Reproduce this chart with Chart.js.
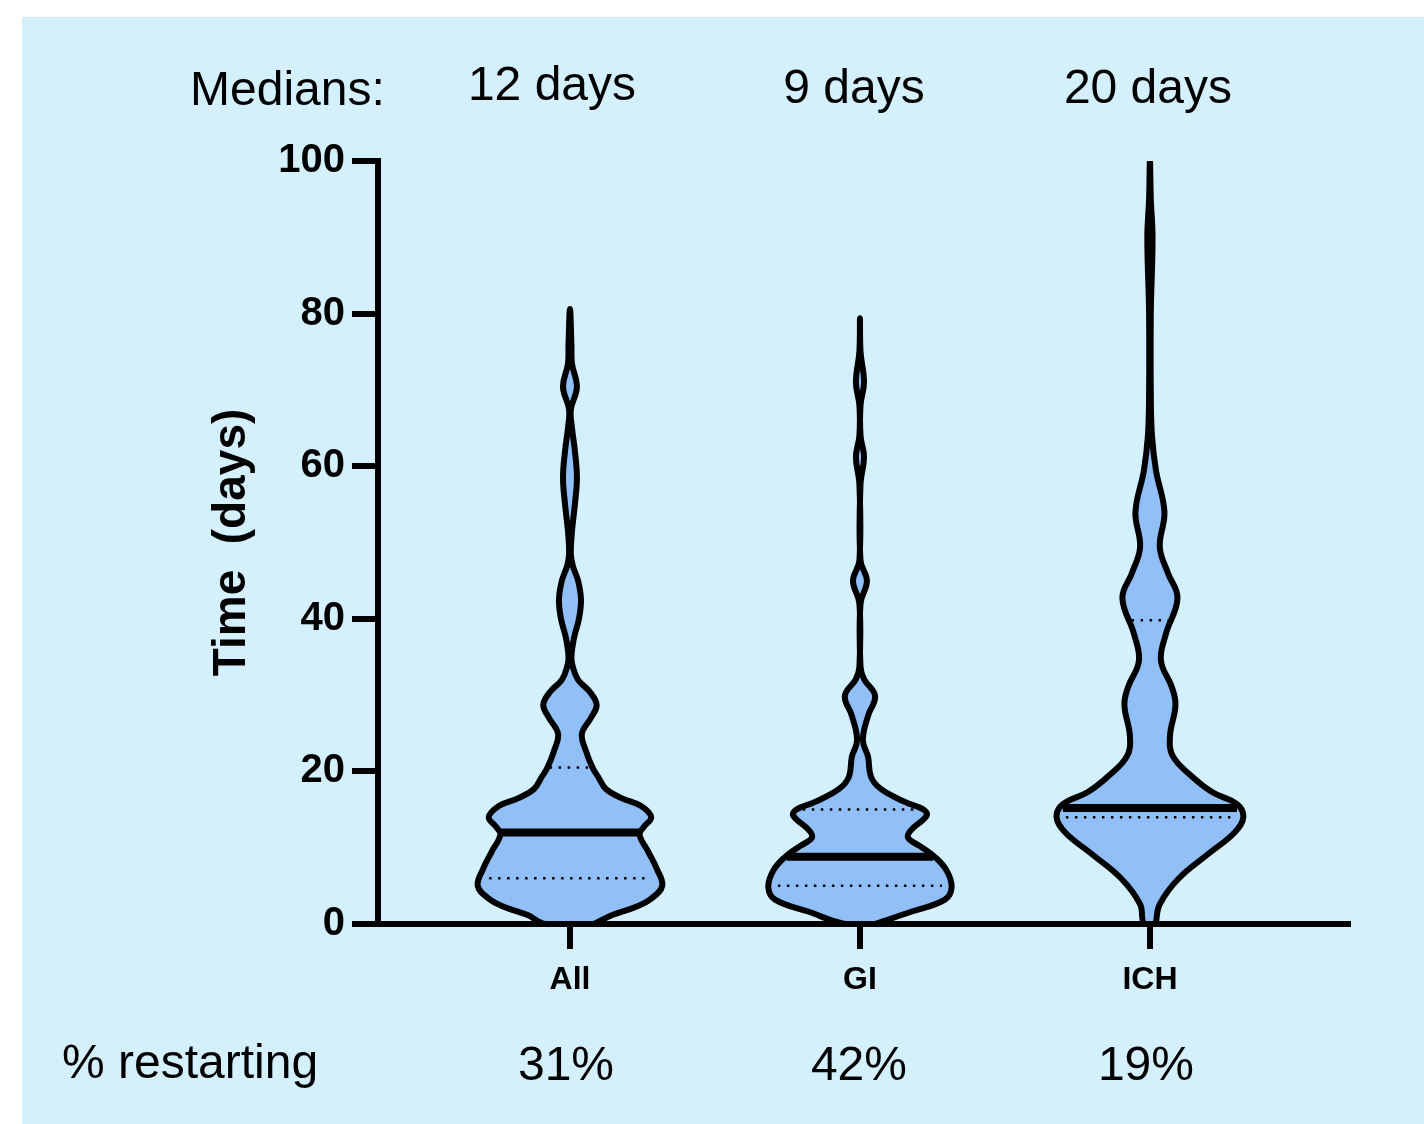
<!DOCTYPE html>
<html>
<head>
<meta charset="utf-8">
<script src="https://cdn.jsdelivr.net/npm/chart.js@4/dist/chart.umd.min.js"></script>
<style>
  html, body { margin: 0; padding: 0; background: #fff; }
  canvas { display: block; }
</style>
</head>
<body>
<canvas id="violin" width="1424" height="1124"></canvas>
<script>
// categories and the text rows above / below the plot
const categories = ['All', 'GI', 'ICH'];
const medianLabels = ['12 days', '9 days', '20 days'];
const restarting = ['31%', '42%', '19%'];

// violin outlines: time level (days) and half width (in category units)
const allDays  = [0, 1.2, 2.2, 3.3, 5, 7.2, 9.4, 11.7, 12.7, 14, 15.5, 16.5, 17.7, 19.3, 20.4, 22.7, 24.9, 27, 28.7, 30.4, 32, 33.7, 35, 37.5, 40, 42.5, 45, 46.9, 48.5, 51.5, 55, 58.5, 62, 65, 67.4, 70.4, 73.4, 76, 80.6];
const allWidth = [0.083, 0.148, 0.224, 0.279, 0.318, 0.300, 0.271, 0.240, 0.254, 0.280, 0.244, 0.178, 0.124, 0.097, 0.079, 0.055, 0.041, 0.072, 0.092, 0.069, 0.028, 0.010, 0.005, 0.014, 0.031, 0.038, 0.028, 0.010, 0.003, 0.007, 0.017, 0.024, 0.017, 0.007, 0.003, 0.024, 0.007, 0.005, 0];

const giDays  = [0, 1.6, 3.2, 4.8, 7, 8.8, 10.2, 11.3, 12.3, 14.2, 15, 16, 17.7, 19.3, 21.9, 24.1, 27.3, 29.9, 32.1, 33.7, 42, 45, 47.6, 57.7, 61.2, 64, 68, 71, 75, 79.4];
const giWidth = [0.052, 0.176, 0.293, 0.316, 0.299, 0.258, 0.207, 0.166, 0.176, 0.230, 0.219, 0.155, 0.072, 0.038, 0.028, 0.010, 0.028, 0.052, 0.014, 0.002, 0.002, 0.024, 0.002, 0.002, 0.014, 0.002, 0.002, 0.014, 0.002, 0];

const ichDays  = [0, 2.6, 6, 9.3, 12, 14, 15.7, 17.3, 19.4, 22, 24.6, 28.7, 31, 34.5, 38, 42.7, 46, 49.4, 54, 59.4, 64, 69.3, 80, 90, 95, 100];
const ichWidth = [0.020, 0.034, 0.100, 0.205, 0.292, 0.322, 0.300, 0.214, 0.143, 0.079, 0.069, 0.088, 0.076, 0.038, 0.055, 0.095, 0.062, 0.034, 0.050, 0.021, 0.007, 0.003, 0.003, 0.009, 0.003, 0];

// drawn median (solid) and quartile (dotted) levels
const medianLine = [12, 8.8, 15.2];
const q1Line = [6, 5, 14];
const q3Line = [20.5, 15, 39.8];

const yTicks = [0, 20, 40, 60, 80, 100];

const profiles = [[allDays, allWidth], [giDays, giWidth], [ichDays, ichWidth]];

const FILL = 'rgb(145,192,248)';
const FONT = '"Liberation Sans", Arial, sans-serif';
Chart.defaults.font.family = FONT;
Chart.defaults.color = '#000';

//half width of a violin at a given level
function widthAt(days, width, v){
    for(let i = 0; i < days.length - 1; i++){
        if(v >= days[i] && v <= days[i+1]){
            const t = (v - days[i]) / (days[i+1] - days[i]);
            return width[i] + t * (width[i+1] - width[i]);
        }
    }
    return 0;
}

//closed outline: up the right side, down the left side
function outline(c, days, width){
    const right = days.map((d, i) => ({x: c + width[i], y: d}));
    const left = days.map((d, i) => ({x: c - width[i], y: d})).reverse();
    return right.concat(left.slice(1), [right[0]]);
}

function hline(c, v, w){
    return [{x: c - w, y: v}, {x: c + w, y: v}];
}

const datasets = [];
profiles.forEach(([days, width], i) => {
    const c = i + 1;
    datasets.push({
        data: outline(c, days, width),
        fill: 'shape',
        backgroundColor: FILL,
        borderColor: '#000',
        borderWidth: 6,
        borderJoinStyle: 'round',
        tension: 0.4,
        pointRadius: 0,
        order: 3
    });
    datasets.push({
        data: hline(c, medianLine[i], widthAt(days, width, medianLine[i]) * 0.98),
        borderColor: '#000',
        borderWidth: 8,
        pointRadius: 0,
        fill: false,
        order: 1
    });
    [q1Line[i], q3Line[i]].forEach(q => {
        datasets.push({
            data: hline(c, q, widthAt(days, width, q) * 0.9),
            borderColor: '#000',
            borderWidth: 2.5,
            borderDash: [2.5, 6.5],
            pointRadius: 0,
            fill: false,
            order: 2
        });
    });
});

const background = {
    id: 'background',
    beforeDraw(chart){
        const ctx = chart.ctx;
        ctx.save();
        ctx.fillStyle = '#fff';
        ctx.fillRect(0, 0, chart.width, chart.height);
        ctx.fillStyle = 'rgb(212,240,253)';
        ctx.fillRect(22, 17, chart.width - 22, chart.height - 17);
        ctx.restore();
    }
};

//text rows: medians on top, % restarting under the axis
const rows = {
    id: 'rows',
    afterDraw(chart){
        const ctx = chart.ctx;
        const x = chart.scales.x;
        const medDx = [-18, -6, -2];
        const medBase = [100, 103, 103];
        const resDx = [-4, -1, -4];
        ctx.save();
        ctx.fillStyle = '#000';
        ctx.font = '48px ' + FONT;
        ctx.textBaseline = 'alphabetic';
        ctx.textAlign = 'left';
        ctx.fillText('Medians:', 190, 105);
        ctx.fillText('% restarting', 62, 1078);
        ctx.textAlign = 'center';
        categories.forEach((c, i) => {
            const px = x.getPixelForValue(i + 1);
            ctx.fillText(medianLabels[i], px + medDx[i], medBase[i]);
            ctx.fillText(restarting[i], px + resDx[i], 1080);
        });
        ctx.restore();
    }
};

new Chart(document.getElementById('violin'), {
    type: 'line',
    data: { datasets: datasets },
    options: {
        responsive: false,
        animation: false,
        devicePixelRatio: 1,
        layout: { padding: { left: 0, top: 161, right: 76, bottom: 0 } },
        plugins: {
            legend: { display: false },
            tooltip: { enabled: false }
        },
        scales: {
            x: {
                type: 'linear',
                min: 0.338,
                max: 3.683,
                z: 1,
                afterBuildTicks: s => { s.ticks = categories.map((c, i) => ({value: i + 1})); },
                afterFit: s => { s.height = 200; },
                ticks: {
                    callback: v => categories[v - 1],
                    font: { size: 32, weight: 'bold' },
                    color: '#000',
                    padding: 12,
                    maxRotation: 0
                },
                grid: { drawOnChartArea: false, tickLength: 25, lineWidth: 6, color: '#000' },
                border: { width: 6, color: '#000' }
            },
            y: {
                min: 0,
                max: 100,
                z: 1,
                afterBuildTicks: s => { s.ticks = yTicks.map(v => ({value: v})); },
                afterFit: s => { s.width = 378; },
                ticks: {
                    font: { size: 40, weight: 'bold' },
                    color: '#000',
                    padding: 7
                },
                grid: { drawOnChartArea: false, tickLength: 26, lineWidth: 6, color: '#000' },
                border: { width: 6, color: '#000' },
                title: {
                    display: true,
                    text: 'Time  (days)',
                    font: { size: 46, weight: 'bold' },
                    color: '#000',
                    padding: { top: 205, bottom: 0 }
                }
            }
        }
    },
    plugins: [background, rows]
});
</script>
</body>
</html>
